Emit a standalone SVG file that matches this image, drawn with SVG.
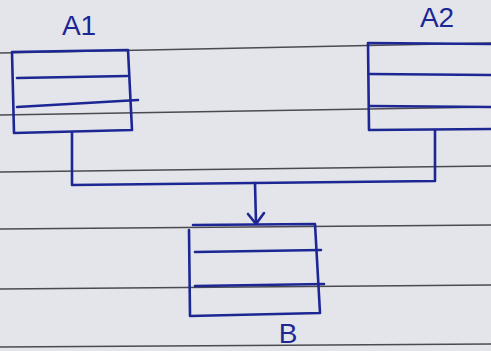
<svg xmlns="http://www.w3.org/2000/svg" width="491" height="351" viewBox="0 0 491 351">
<style>
.paper{fill:#e4e5ea}
.rule{stroke:#4a4a50;stroke-width:1.6;fill:none}
.ink{stroke:#1c2794;stroke-width:2.6;fill:none;stroke-linecap:round;stroke-linejoin:round}
.lbl{font-family:"Liberation Sans",Arial,sans-serif;font-size:28px;fill:#1c2794;text-anchor:middle}
</style>
<rect class="paper" x="0" y="0" width="491" height="351"/>
<g id="paper-rules">
<line class="rule" x1="0" y1="53" x2="491" y2="43"/>
<line class="rule" x1="0" y1="115" x2="491" y2="107"/>
<line class="rule" x1="0" y1="172" x2="491" y2="166"/>
<line class="rule" x1="0" y1="229" x2="491" y2="225"/>
<line class="rule" x1="0" y1="289" x2="491" y2="285"/>
<line class="rule" x1="0" y1="347" x2="491" y2="344"/>
</g>
<g id="A1">
<path class="ink" d="M12,52 L128,50 L132,130 L14,133 Z"/>
<line class="ink" x1="17" y1="78" x2="127" y2="76"/>
<line class="ink" x1="17" y1="107" x2="138" y2="100"/>
<text class="lbl" x="79" y="35">A1</text>
</g>
<g id="A2">
<path class="ink" d="M492,44 L368,43 L369,130 L492,129"/>
<line class="ink" x1="370" y1="74" x2="491" y2="75"/>
<line class="ink" x1="370" y1="106" x2="491" y2="107"/>
<text class="lbl" x="437" y="27">A2</text>
</g>
<g id="B">
<path class="ink" d="M189,230 L190,316 L320,313 L315,224 L193,225"/>
<line class="ink" x1="195" y1="252" x2="321" y2="250"/>
<line class="ink" x1="195" y1="286" x2="324" y2="284"/>
<text class="lbl" x="288" y="343">B</text>
</g>
<g id="connectors">
<path class="ink" d="M72,133 L72,185 L435,181 L435,130"/>
<path class="ink" d="M255,183 L256,223"/>
<path class="ink" d="M248,214 L256,224 L264,213"/>
</g>
</svg>
